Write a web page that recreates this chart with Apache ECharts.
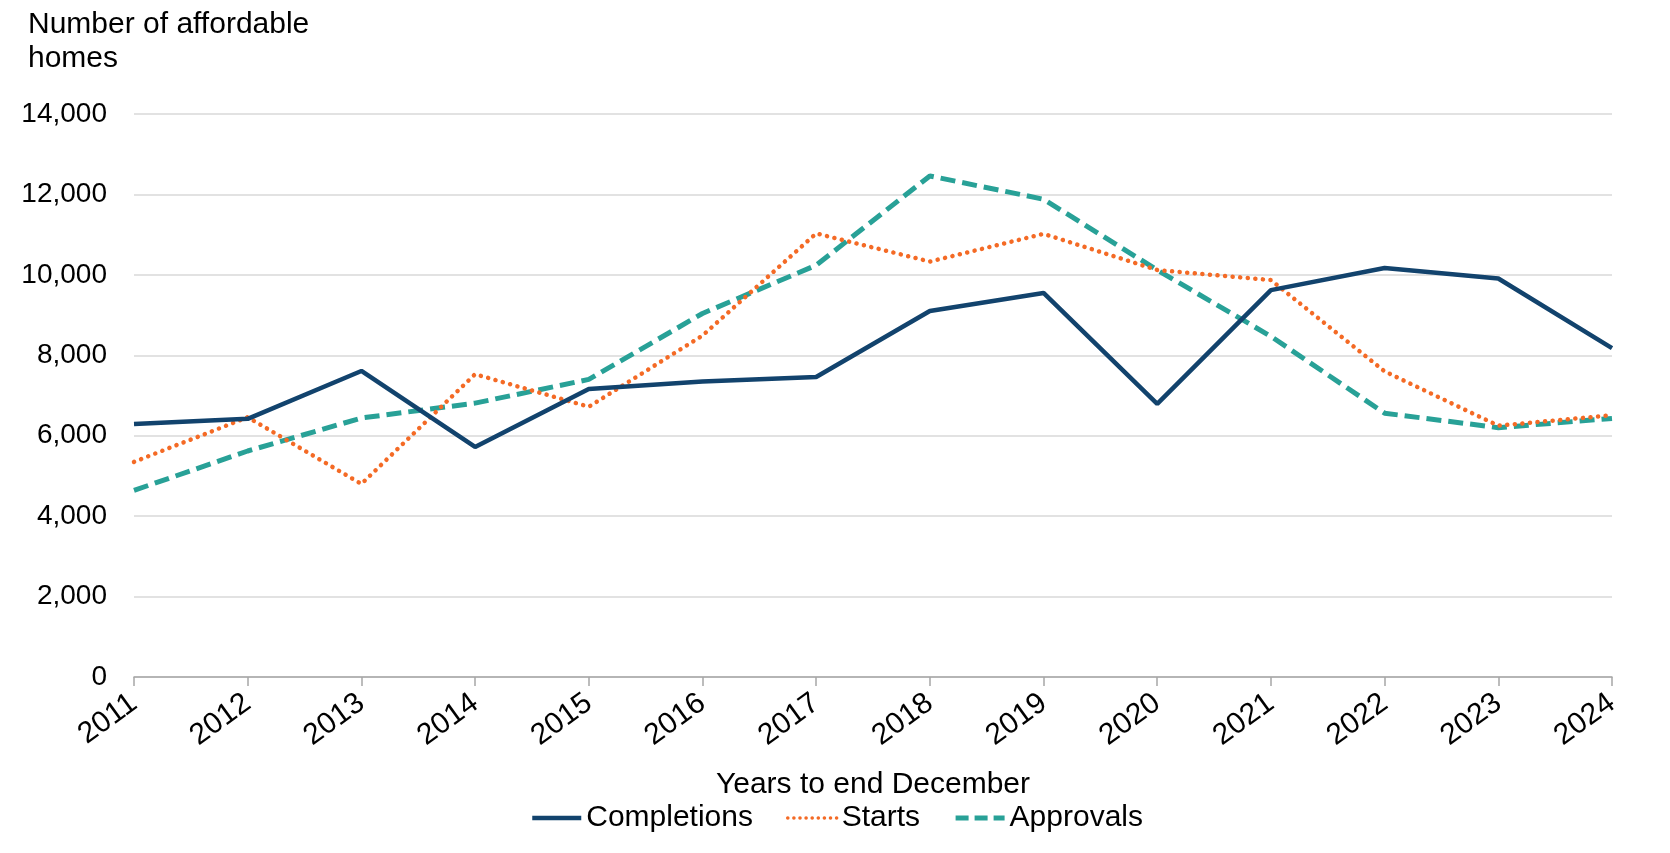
<!DOCTYPE html>
<html>
<head>
<meta charset="utf-8">
<script src="https://cdn.jsdelivr.net/npm/echarts@6/dist/echarts.min.js"></script>
<style>
html,body{margin:0;padding:0;background:#fff;}
#chart{width:1670px;height:853px;}
</style>
</head>
<body>
<div id="chart"></div>
<script>
var years = ['2011','2012','2013','2014','2015','2016','2017','2018','2019','2020','2021','2022','2023','2024'];
var completions = [6290, 6420, 7610, 5720, 7160, 7350, 7460, 9100, 9550, 6790, 9620, 10170, 9910, 8180];
var starts = [5350, 6460, 4800, 7530, 6720, 8490, 11030, 10330, 11020, 10120, 9870, 7600, 6250, 6510];
var approvals = [4640, 5620, 6440, 6810, 7400, 9040, 10240, 12460, 11880, 10120, 8470, 6560, 6200, 6430];
var yTicks = [0, 2000, 4000, 6000, 8000, 10000, 12000, 14000];

var FONT = "'Liberation Sans', Arial, sans-serif";
var C_NAVY = '#12436D', C_ORANGE = '#F46A25', C_TEAL = '#28A197';
var STYLE_DOT = { color: C_ORANGE, width: 4.5, type: [0.1, 7.5], cap: 'round' };
var STYLE_DASH = { color: C_TEAL, width: 5, type: [15, 7] };
var STYLE_SOLID = { color: C_NAVY, width: 4.5 };

var chart = echarts.init(document.getElementById('chart'));
chart.setOption({
  animation: false,
  backgroundColor: '#ffffff',
  title: {
    text: 'Number of affordable\nhomes',
    left: 23, top: 3,
    textStyle: { fontFamily: FONT, fontSize: 30, fontWeight: 'normal', color: '#000', lineHeight: 34 }
  },
  legend: {
    left: 530, top: 803, padding: 0,
    itemWidth: 49, itemHeight: 14, itemGap: 33,
    textStyle: { fontFamily: FONT, fontSize: 30, color: '#000' },
    itemStyle: { opacity: 0 },
    data: [
      { name: 'Completions', itemStyle: { opacity: 0 }, lineStyle: STYLE_SOLID },
      { name: 'Starts', itemStyle: { opacity: 0 }, lineStyle: { color: C_ORANGE, width: 3.5, type: [0.1, 6], cap: 'round' } },
      { name: 'Approvals', itemStyle: { opacity: 0 }, lineStyle: { color: C_TEAL, width: 5, type: [13, 6] } }
    ]
  },
  grid: { left: 134, right: 58, top: 114, bottom: 176, containLabel: false },
  xAxis: {
    type: 'category',
    data: years,
    boundaryGap: false,
    name: 'Years to end December',
    nameLocation: 'middle',
    nameGap: 93,
    nameTextStyle: { fontFamily: FONT, fontSize: 30, color: '#000' },
    axisLine: { lineStyle: { color: '#a6a6a6', width: 1.5 } },
    axisTick: { show: true, alignWithLabel: true, length: 9, lineStyle: { color: '#a6a6a6', width: 1.5 } },
    axisLabel: { rotate: 36, margin: 23, fontFamily: FONT, fontSize: 30, color: '#000', interval: 0 },
    splitLine: { show: false }
  },
  yAxis: {
    type: 'value',
    min: 0, max: 14000, interval: 2000,
    axisLine: { show: false },
    axisTick: { show: false },
    axisLabel: {
      margin: 27, fontFamily: FONT, fontSize: 28, color: '#000',
      formatter: function (v) { return yTicks.indexOf(v) >= 0 ? v.toLocaleString('en-GB') : ''; }
    },
    splitLine: { lineStyle: { color: '#d9d9d9', width: 1.5 } }
  },
  series: [
    {
      name: 'Completions', type: 'line', data: completions, symbol: 'none',
      itemStyle: { color: C_NAVY }, lineStyle: STYLE_SOLID, z: 3
    },
    {
      name: 'Starts', type: 'line', data: starts, symbol: 'none',
      itemStyle: { color: C_ORANGE }, lineStyle: STYLE_DOT, z: 2
    },
    {
      name: 'Approvals', type: 'line', data: approvals, symbol: 'none',
      itemStyle: { color: C_TEAL }, lineStyle: STYLE_DASH, z: 1
    }
  ]
});
</script>
</body>
</html>
